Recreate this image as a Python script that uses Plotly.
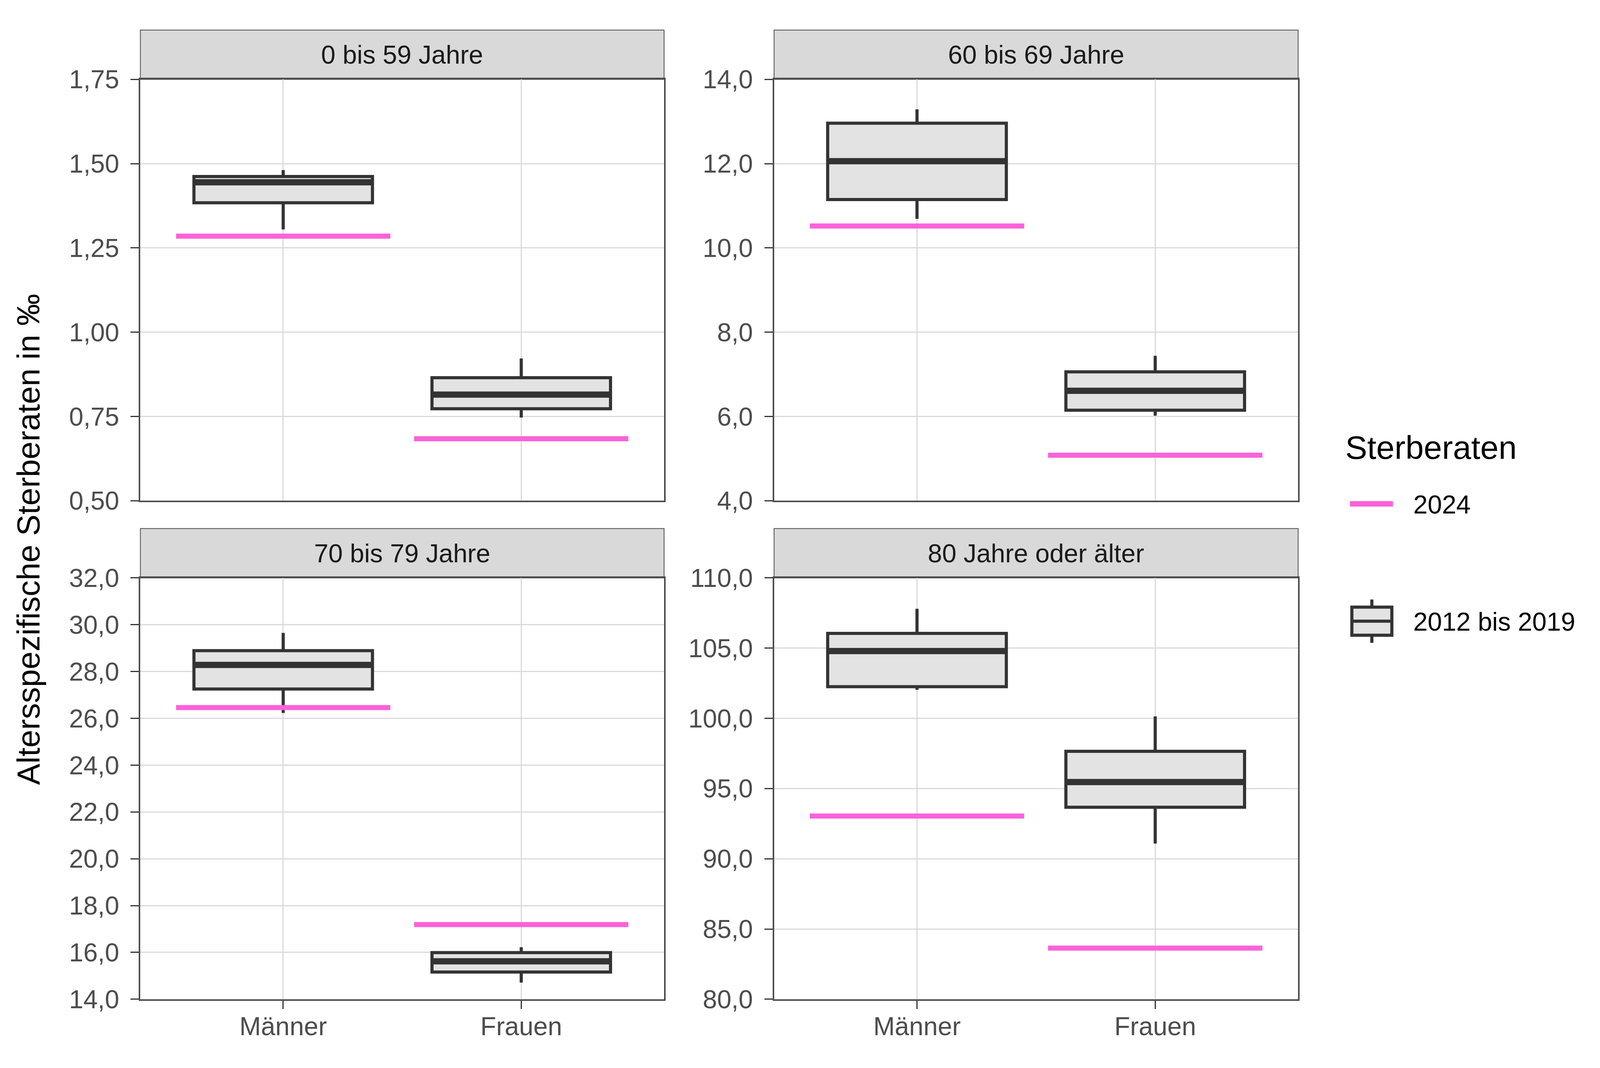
import plotly.graph_objects as go

W, H = 4320, 2735  # reference frame used to place panels (as fractions of the page)

# ---------------- data ----------------
categories = ["Männer", "Frauen"]
panel_titles = ["0 bis 59 Jahre", "60 bis 69 Jahre", "70 bis 79 Jahre", "80 Jahre oder älter"]

# 2012 bis 2019 box statistics (per panel: [Männer, Frauen])
q1_vals = [[1.384, 0.773], [11.15, 6.15], [27.25, 15.16], [102.25, 93.67]]
median_vals = [[1.445, 0.815], [12.06, 6.61], [28.28, 15.62], [104.79, 95.46]]
q3_vals = [[1.462, 0.865], [12.96, 7.06], [28.89, 15.99], [106.05, 97.65]]
lower_vals = [[1.305, 0.747], [10.69, 6.02], [26.23, 14.71], [102.03, 91.08]]
upper_vals = [[1.481, 0.922], [13.29, 7.44], [29.65, 16.22], [107.80, 100.14]]

# 2024 values
rate_2024 = [[1.285, 0.684], [10.52, 5.08], [26.46, 17.19], [93.04, 83.64]]

# y tick values per panel
y_ticks = [
    [0.50, 0.75, 1.00, 1.25, 1.50, 1.75],
    [4.0, 6.0, 8.0, 10.0, 12.0, 14.0],
    [14.0, 16.0, 18.0, 20.0, 22.0, 24.0, 26.0, 28.0, 30.0, 32.0],
    [80.0, 85.0, 90.0, 95.0, 100.0, 105.0, 110.0],
]
y_formats = [".2f", ".1f", ".1f", ".1f"]

legend_title = "Sterberaten"
legend_labels = ["2024", "2012 bis 2019"]
y_title = "Altersspezifische Sterberaten in ‰"

# ---------------- style ----------------
FONT = "Liberation Sans, Arial, sans-serif"
PINK = "#F963DA"
BOX_FILL = "#E3E3E3"
DARK = "#333333"
FRAME = "#4D4D4D"
GRID = "#DADADA"
STRIP = "#D9D9D9"

def px_x(p):
    return p / W

def px_y(p):
    return 1 - p / H

col_x = [(379, 1793), (2090, 3505)]
row_y = [(171, 1280), (1483, 2592)]
strip_h = 130
BOX_W = 0.75
LINE_HALF = 0.45

fig = go.Figure()
layout = dict(
    autosize=True, margin=dict(l=0, r=0, t=0, b=0, pad=0),
    paper_bgcolor="white", plot_bgcolor="white",
    showlegend=False, separators=",.",
    font=dict(family=FONT, color="#000000"),
)
shapes = []
annotations = []
xpos = list(range(len(categories)))

for i in range(4):
    r, c = divmod(i, 2)
    n = i + 1
    xa = "x" if n == 1 else f"x{n}"
    ya = "y" if n == 1 else f"y{n}"
    xkey = "xaxis" if n == 1 else f"xaxis{n}"
    ykey = "yaxis" if n == 1 else f"yaxis{n}"

    fig.add_trace(go.Box(
        x=xpos, q1=q1_vals[i], median=median_vals[i], q3=q3_vals[i],
        lowerfence=lower_vals[i], upperfence=upper_vals[i],
        width=BOX_W, whiskerwidth=0, fillcolor=BOX_FILL,
        line=dict(color=DARK, width=8), boxpoints=False,
        xaxis=xa, yaxis=ya, name=legend_labels[1], hoverinfo="skip",
    ))
    # thicker median line (ggplot style)
    mx, my = [], []
    for k, xv in enumerate(xpos):
        mx += [xv - BOX_W / 2 + 0.004, xv + BOX_W / 2 - 0.004, None]
        my += [median_vals[i][k], median_vals[i][k], None]
    fig.add_trace(go.Scatter(x=mx, y=my, mode="lines", line=dict(color=DARK, width=16),
                             xaxis=xa, yaxis=ya, hoverinfo="skip"))
    # 2024 lines
    lx, ly = [], []
    for k, xv in enumerate(xpos):
        lx += [xv - LINE_HALF, xv + LINE_HALF, None]
        ly += [rate_2024[i][k], rate_2024[i][k], None]
    fig.add_trace(go.Scatter(x=lx, y=ly, mode="lines", line=dict(color=PINK, width=13),
                             xaxis=xa, yaxis=ya, name=legend_labels[0], hoverinfo="skip"))

    x0, x1 = col_x[c]
    yt, yb = row_y[r]
    bottom = r == 1
    layout[xkey] = dict(
        domain=[px_x(x0), px_x(x1)], anchor=ya, range=[-0.6, 1.6],
        tickmode="array", tickvals=xpos, ticktext=categories,
        showticklabels=bottom, ticks="outside" if bottom else "",
        ticklen=21, tickwidth=3, tickcolor=DARK, ticklabelstandoff=-12,
        tickfont=dict(size=66, color=FRAME, family=FONT),
        showgrid=True, gridcolor=GRID, gridwidth=3, zeroline=False,
        showline=True, linecolor=FRAME, linewidth=4, mirror=True, fixedrange=True,
    )
    layout[ykey] = dict(
        domain=[px_y(yb), px_y(yt)], anchor=xa,
        range=[y_ticks[i][0], y_ticks[i][-1]],
        tickmode="array", tickvals=y_ticks[i], tickformat=y_formats[i],
        ticks="outside", ticklen=21, tickwidth=3, tickcolor=DARK, ticklabelstandoff=16,
        tickfont=dict(size=66, color=FRAME, family=FONT),
        showgrid=True, gridcolor=GRID, gridwidth=3, zeroline=False,
        showline=True, linecolor=FRAME, linewidth=4, mirror=True, fixedrange=True,
    )
    # strip
    shapes.append(dict(type="rect", xref="paper", yref="paper",
                       x0=px_x(x0), x1=px_x(x1), y0=px_y(yt), y1=px_y(yt - strip_h),
                       fillcolor=STRIP, line=dict(color=FRAME, width=2), layer="below"))
    annotations.append(dict(xref="paper", yref="paper", x=px_x((x0 + x1) / 2),
                            y=px_y(yt - strip_h / 2), text=panel_titles[i], showarrow=False,
                            xanchor="center", yanchor="middle",
                            font=dict(size=66, color="#1A1A1A", family=FONT)))

# y axis title
annotations.append(dict(xref="paper", yref="paper", x=px_x(76), y=px_y((171 + 2592) / 2),
                        text=y_title, textangle=-90, showarrow=False,
                        xanchor="center", yanchor="middle",
                        font=dict(size=82, color="#000000", family=FONT)))

# custom legend
annotations.append(dict(xref="paper", yref="paper", x=px_x(3630), y=px_y(1140),
                        text=legend_title, showarrow=False, xanchor="left", yanchor="middle",
                        font=dict(size=84, color="#000000", family=FONT)))
annotations.append(dict(xref="paper", yref="paper", x=px_x(3814), y=px_y(1290),
                        text=legend_labels[0], showarrow=False, xanchor="left", yanchor="middle",
                        font=dict(size=66, color="#000000", family=FONT)))
annotations.append(dict(xref="paper", yref="paper", x=px_x(3814), y=px_y(1598),
                        text=legend_labels[1], showarrow=False, xanchor="left", yanchor="middle",
                        font=dict(size=66, color="#000000", family=FONT)))
shapes.append(dict(type="line", xref="paper", yref="paper",
                   x0=px_x(3645), x1=px_x(3761), y0=px_y(1288), y1=px_y(1288),
                   line=dict(color=PINK, width=14)))
shapes.append(dict(type="line", xref="paper", yref="paper",
                   x0=px_x(3704), x1=px_x(3704), y0=px_y(1540), y1=px_y(1654),
                   line=dict(color=DARK, width=8)))
shapes.append(dict(type="rect", xref="paper", yref="paper",
                   x0=px_x(3650), x1=px_x(3758), y0=px_y(1560), y1=px_y(1634),
                   fillcolor=BOX_FILL, line=dict(color=DARK, width=8)))
shapes.append(dict(type="line", xref="paper", yref="paper",
                   x0=px_x(3650), x1=px_x(3758), y0=px_y(1597), y1=px_y(1597),
                   line=dict(color=DARK, width=8)))

layout["shapes"] = shapes
layout["annotations"] = annotations
fig.update_layout(**layout)

# Full-window page: the figure fills the browser viewport, without margins or mode bar.
html = fig.to_html(include_plotlyjs=True, full_html=True, default_width="100%",
                   default_height="100%",
                   config={"responsive": True, "displayModeBar": False})
html = html.replace(
    "<head>",
    "<head><style>html,body{margin:0;padding:0;width:100%;height:100%;overflow:hidden;}</style>",
    1,
)
with open("out.html", "w", encoding="utf-8") as f:
    f.write(html)
